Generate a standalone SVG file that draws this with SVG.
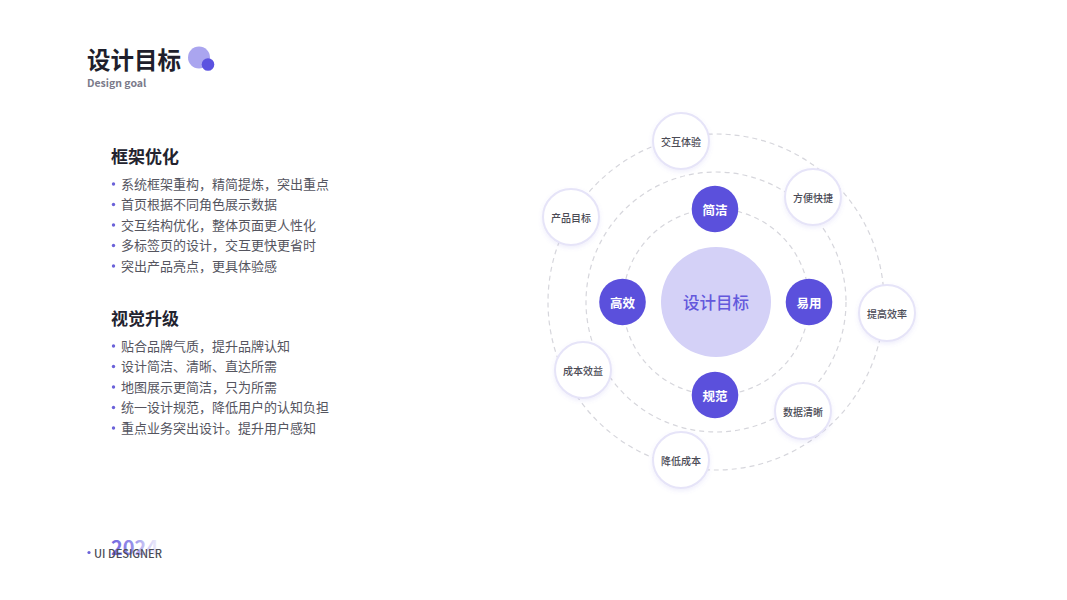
<svg xmlns="http://www.w3.org/2000/svg" width="1067" height="600" viewBox="0 0 1067 600">
<defs>
<style>
text{font-family:"Noto Sans CJK SC","Noto Sans",sans-serif;dominant-baseline:central}
.h{font-size:17px;font-weight:700;fill:#23232f}
.li{font-size:13px;fill:#55555f}
.dot{fill:#6b62d9}
.ring{fill:none;stroke:#d6d6dc;stroke-width:1.2;stroke-dasharray:5 4}
.outer circle{fill:#fff;stroke:#e6e4f8;stroke-width:2;filter:url(#sh)}
.outer text{font-size:10px;font-weight:500;fill:#4a4a55;text-anchor:middle}
.key circle{fill:#5b50dc}
.key text{font-size:12.5px;font-weight:700;fill:#fff;text-anchor:middle}
</style>
<filter id="sh" x="-30%" y="-30%" width="160%" height="160%">
<feDropShadow dx="0" dy="2" stdDeviation="2" flood-color="#7b72e0" flood-opacity="0.12"/>
</filter>
<linearGradient id="yr" x1="0" y1="0" x2="1" y2="0">
<stop offset="0" stop-color="#6e64de"/>
<stop offset="0.5" stop-color="#8f88e8" stop-opacity="0.9"/>
<stop offset="1" stop-color="#c9c5f4" stop-opacity="0.3"/>
</linearGradient>
</defs>
<rect width="1067" height="600" fill="#fff"/>

<g id="title">
<text x="87" y="59" style="font-size:23.5px;font-weight:700;fill:#1f1f2c">设计目标</text>
<circle cx="199" cy="57.5" r="11" fill="#aaa5ef"/>
<circle cx="208" cy="64.5" r="6.3" fill="#5b52e0"/>
<text x="87" y="82" style="font-size:10.5px;font-weight:600;fill:#7a7a8a">Design goal</text>
</g>

<g id="section1">
<text class="h" x="111" y="155">框架优化</text>
<circle class="dot" cx="113.5" cy="184" r="1.7"/><text class="li" x="121" y="183">系统框架重构，精简提炼，突出重点</text>
<circle class="dot" cx="113.5" cy="204.5" r="1.7"/><text class="li" x="121" y="203.5">首页根据不同角色展示数据</text>
<circle class="dot" cx="113.5" cy="225" r="1.7"/><text class="li" x="121" y="224">交互结构优化，整体页面更人性化</text>
<circle class="dot" cx="113.5" cy="245.5" r="1.7"/><text class="li" x="121" y="244.5">多标签页的设计，交互更快更省时</text>
<circle class="dot" cx="113.5" cy="266" r="1.7"/><text class="li" x="121" y="265">突出产品亮点，更具体验感</text>
</g>

<g id="section2">
<text class="h" x="111" y="317">视觉升级</text>
<circle class="dot" cx="113.5" cy="346" r="1.7"/><text class="li" x="121" y="345">贴合品牌气质，提升品牌认知</text>
<circle class="dot" cx="113.5" cy="366.5" r="1.7"/><text class="li" x="121" y="365.5">设计简洁、清晰、直达所需</text>
<circle class="dot" cx="113.5" cy="387" r="1.7"/><text class="li" x="121" y="386">地图展示更简洁，只为所需</text>
<circle class="dot" cx="113.5" cy="407.5" r="1.7"/><text class="li" x="121" y="406.5">统一设计规范，降低用户的认知负担</text>
<circle class="dot" cx="113.5" cy="428" r="1.7"/><text class="li" x="121" y="427">重点业务突出设计。提升用户感知</text>
</g>

<g id="footer">
<text x="111" y="546" style="font-size:20px;font-weight:700;fill:url(#yr)">2024</text>
<circle cx="89" cy="552.5" r="1.6" fill="#6b62d9"/>
<text x="94" y="552.5" style="font-size:11px;font-weight:500;fill:#4a4a55">UI DESIGNER</text>
</g>

<g id="connectors">
<circle class="ring" cx="716" cy="302" r="168"/>
<circle class="ring" cx="716" cy="302" r="130"/>
<circle class="ring" cx="716" cy="302" r="93"/>
</g>

<g id="center">
<circle cx="716" cy="302" r="55" fill="#d4d1f7"/>
<text x="716" y="302" style="font-size:16.5px;font-weight:500;fill:#6358dc;text-anchor:middle">设计目标</text>
</g>

<g id="n-jianjie" class="key"><circle cx="715" cy="209" r="23.3"/><text x="715" y="209">简洁</text></g>
<g id="n-gaoxiao" class="key"><circle cx="622.5" cy="302" r="23.3"/><text x="622.5" y="302">高效</text></g>
<g id="n-yiyong" class="key"><circle cx="809" cy="302" r="23.3"/><text x="809" y="302">易用</text></g>
<g id="n-guifan" class="key"><circle cx="715" cy="395" r="23.3"/><text x="715" y="395">规范</text></g>

<g id="n-jiaohu" class="outer"><circle cx="681" cy="141" r="28"/><text x="681" y="141">交互体验</text></g>
<g id="n-fangbian" class="outer"><circle cx="813" cy="197" r="28"/><text x="813" y="197">方便快捷</text></g>
<g id="n-chanpin" class="outer"><circle cx="571" cy="217" r="28"/><text x="571" y="217">产品目标</text></g>
<g id="n-tigao" class="outer"><circle cx="887" cy="313" r="28"/><text x="887" y="313">提高效率</text></g>
<g id="n-chengben" class="outer"><circle cx="583" cy="370" r="28"/><text x="583" y="370">成本效益</text></g>
<g id="n-shuju" class="outer"><circle cx="803" cy="411" r="28"/><text x="803" y="411">数据清晰</text></g>
<g id="n-jiangdi" class="outer"><circle cx="681" cy="460" r="28"/><text x="681" y="460">降低成本</text></g>
</svg>
